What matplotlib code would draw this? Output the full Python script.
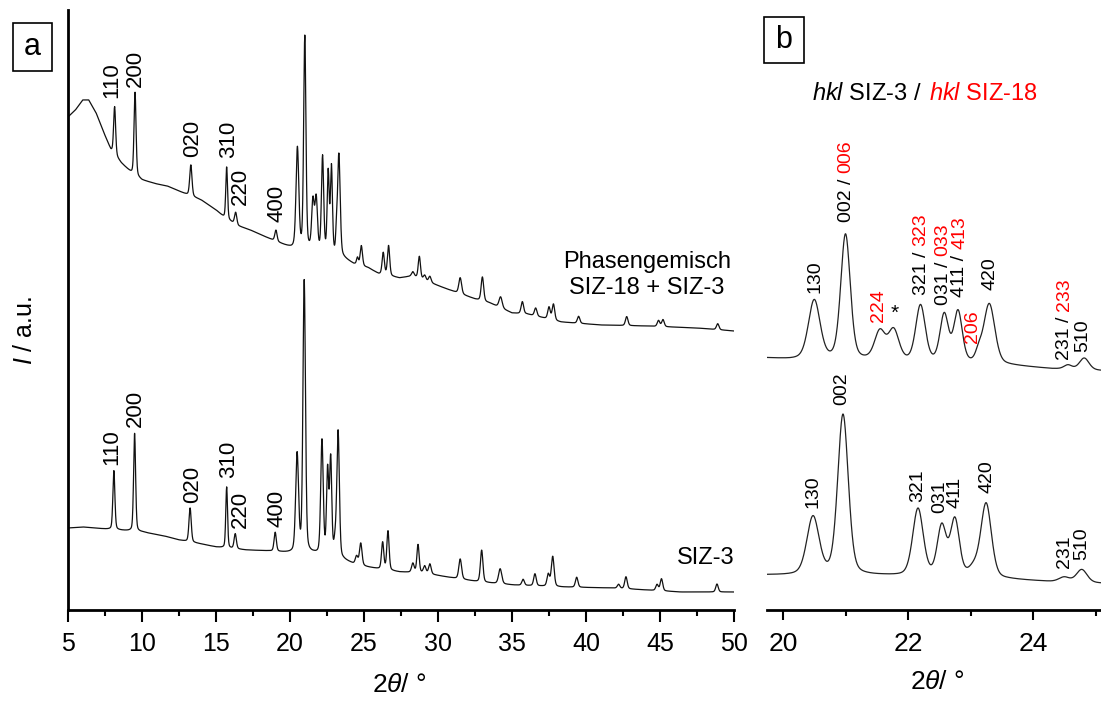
import numpy as np
import matplotlib
matplotlib.use('Agg')
import matplotlib.pyplot as plt
from matplotlib.patches import Rectangle
from matplotlib.text import Annotation
from matplotlib.ticker import MultipleLocator

plt.rcParams['font.family'] = ['Liberation Sans', 'DejaVu Sans']
plt.rcParams['mathtext.fontset'] = 'custom'
plt.rcParams['mathtext.rm'] = 'Liberation Sans'
plt.rcParams['mathtext.it'] = 'Liberation Sans:italic'

RED = '#ff0000'

# ---- data (2theta in deg, intensity in a.u.) ----
# SIZ-3: background knots
siz3_bg_x = [5.0, 6.0, 7.5, 10.0, 11.5, 12.5, 14.0, 15.0, 17.0, 18.5, 20.0, 21.6, 23.6, 24.3,
             25.2, 26.0, 27.4, 29.0, 30.6, 32.8, 35.1, 38.4, 41.8, 46.4, 50.0]
siz3_bg_y = [82, 83, 81, 78, 74, 70, 66, 63, 60, 59, 57, 56, 50, 46,
             43, 41, 38, 37, 33, 28, 25, 23, 22, 18, 18]
# SIZ-3: reflections
siz3_pos = [8.1, 9.5, 13.25, 15.72, 16.3, 19.0, 20.48, 20.96, 22.16, 22.54, 22.75, 23.05, 23.25,
            24.5, 24.78, 26.26, 26.62, 28.3, 28.65, 29.1, 29.45, 31.5, 32.95, 34.2, 35.75,
            36.55, 37.45, 37.75, 39.37, 42.2, 42.7, 44.8, 45.1, 48.85]
siz3_amp = [59, 98, 34, 61, 15, 19, 98, 272, 114, 84, 96, 14, 126,
            8, 22, 27, 39, 9, 28, 7, 10, 20, 32, 15, 6,
            12, 12, 30, 10, 4, 12, 6, 12, 8]
siz3_fwhm = [0.16, 0.16, 0.18, 0.14, 0.18, 0.18, 0.23, 0.2, 0.2, 0.17, 0.17, 0.2, 0.2,
             0.2, 0.2, 0.18, 0.18, 0.2, 0.18, 0.2, 0.2, 0.22, 0.2, 0.25, 0.2,
             0.2, 0.2, 0.22, 0.2, 0.2, 0.2, 0.2, 0.2, 0.2]

# Phasengemisch SIZ-18 + SIZ-3: background knots
mix_bg_x = [5.0, 5.5, 6.0, 6.4, 6.9, 7.4, 7.9, 8.6, 9.3, 10.0, 11.0, 11.7, 12.8, 14.0, 15.0,
            15.6, 16.5, 17.3, 18.5, 19.6, 20.1, 21.3, 23.6, 24.3, 25.3, 26.0, 27.4, 28.3,
            29.0, 30.6, 32.5, 33.5, 35.0, 36.0, 38.3, 41.0, 44.0, 47.5, 50.0]
mix_bg_y = [493, 500, 510, 510, 497, 478, 460, 447, 437, 430, 426, 424, 417, 410, 400,
            392, 384, 380, 372, 365, 362, 360, 352, 346, 342, 336, 332, 334,
            330, 321, 311, 307, 297, 296, 288, 285, 284, 282, 279]
# Phasengemisch: reflections
mix_pos = [8.15, 9.53, 13.3, 15.72, 16.33, 19.05, 20.5, 21.0, 21.55, 21.77, 22.2, 22.58, 22.8,
           23.13, 23.3, 24.56, 24.82, 26.3, 26.66, 28.3, 28.74, 29.1, 29.45, 31.5, 33.0,
           34.23, 35.7, 36.6, 37.5, 37.8, 39.5, 42.75, 44.9, 45.2, 48.9]
mix_amp = [48, 83, 31, 52, 12, 11, 100, 212, 48, 51, 95, 80, 86,
           15, 102, 7, 20, 22, 30, 4, 22, 5, 6, 16, 24,
           11, 12, 8, 12, 16, 7, 9, 6, 7, 6]
mix_fwhm = [0.16, 0.16, 0.18, 0.14, 0.18, 0.18, 0.22, 0.18, 0.2, 0.2, 0.18, 0.16, 0.16,
            0.12, 0.21, 0.15, 0.18, 0.18, 0.18, 0.2, 0.18, 0.2, 0.2, 0.22, 0.2,
            0.25, 0.2, 0.2, 0.2, 0.2, 0.2, 0.2, 0.2, 0.2, 0.2]

# panel b shows the 20-25 deg range again, rescaled and shifted
zoom_scale = 0.59
zoom_off_mix = 37
zoom_off_siz3 = 1

# reflection labels, panel a
a_hkl = ['110', '200', '020', '310', '220', '400']
a_lab_x = [7.97, 9.53, 13.4, 15.85, 16.62, 19.12]
a_lab_y_mix = [512, 523, 453, 452, 405, 388]
a_lab_y_siz3 = [145, 183, 107, 132, 82, 83]

# reflection labels, panel b (black part, red part)
b_mix_black = ['130', '002 /', '', '321 /', '031 /', '411 /', '', '420', '231 /', '510']
b_mix_red = ['', '006', '224', '323', '033', '413', '206', '', '233', '']
b_mix_x = [20.51, 21.01, 21.52, 22.21, 22.56, 22.83, 23.04, 23.31, 24.51, 24.8]
b_mix_y = [317, 388, 288, 315, 305, 313, 267, 320, 250, 258]
b_siz3_hkl = ['130', '002', '321', '031', '411', '420', '231', '510']
b_siz3_x = [20.48, 20.94, 22.16, 22.51, 22.75, 23.26, 24.5, 24.78]
b_siz3_y = [102, 205, 108, 97, 102, 117, 42, 50]


def profile(x, bg_x, bg_y, pos, amp, fwhm, eta=0.3):
    y = np.interp(x, bg_x, bg_y)
    for p, a, w in zip(pos, amp, fwhm):
        d = (x - p) / w
        y = y + a * (eta / (1 + 4 * d**2) + (1 - eta) * np.exp(-4 * np.log(2) * d**2))
    return y


W, H = 1101, 705
fig = plt.figure(figsize=(W / 100, H / 100), dpi=100)


def px_rect(x0, y0, x1, y1):
    return [x0 / W, 1 - y1 / H, (x1 - x0) / W, (y1 - y0) / H]


axa = fig.add_axes(px_rect(68, 10, 734, 610))
axb = fig.add_axes(px_rect(767, 10, 1101, 610))

xa = np.arange(5.0, 50.0001, 0.01)
ya_mix = profile(xa, mix_bg_x, mix_bg_y, mix_pos, mix_amp, mix_fwhm)
ya_siz3 = profile(xa, siz3_bg_x, siz3_bg_y, siz3_pos, siz3_amp, siz3_fwhm)
axa.plot(xa, ya_mix, color='#111111', lw=0.9)
axa.plot(xa, ya_siz3, color='#111111', lw=0.9)

xb = np.arange(19.7, 25.2, 0.004)
yb_mix = profile(xb, mix_bg_x, mix_bg_y, mix_pos, mix_amp, mix_fwhm) * zoom_scale + zoom_off_mix
yb_siz3 = profile(xb, siz3_bg_x, siz3_bg_y, siz3_pos, siz3_amp, siz3_fwhm) * zoom_scale + zoom_off_siz3
axb.plot(xb, yb_mix, color='#222222', lw=0.9)
axb.plot(xb, yb_siz3, color='#222222', lw=0.9)

# axes styling
axa.set_xlim(5, 50)
axa.set_ylim(0, 600)
axa.xaxis.set_major_locator(MultipleLocator(5))
axa.xaxis.set_minor_locator(MultipleLocator(2.5))
axa.set_yticks([])
for s in ['top', 'right']:
    axa.spines[s].set_visible(False)
for s in ['left', 'bottom']:
    axa.spines[s].set_linewidth(2)
axa.tick_params(axis='x', which='major', direction='out', length=8.5, width=1.5, labelsize=18, pad=7)
axa.tick_params(axis='x', which='minor', direction='out', length=4.5, width=1.5)
axa.set_xlabel(r'2$\theta$/ °', fontsize=19)
axa.xaxis.set_label_coords(0.498, -0.105)

axb.set_xlim(19.744, 25.088)
axb.set_ylim(0, 600)
axb.xaxis.set_major_locator(MultipleLocator(2))
axb.xaxis.set_minor_locator(MultipleLocator(1))
axb.set_yticks([])
for s in ['top', 'right', 'left']:
    axb.spines[s].set_visible(False)
axb.spines['bottom'].set_linewidth(2)
axb.tick_params(axis='x', which='major', direction='out', length=7, width=1.5, labelsize=19, pad=9)
axb.tick_params(axis='x', which='minor', direction='out', length=4.5, width=1.5)
axb.set_xlabel(r'2$\theta$/ °', fontsize=19)
axb.xaxis.set_label_coords(0.51, -0.1)

fig.text(25 / W, 1 - 330 / H, r'$I$ / a.u.', rotation=90, ha='center', va='center', fontsize=18)

# panel a labels
for name, lx, ly in zip(a_hkl, a_lab_x, a_lab_y_mix):
    axa.text(lx, ly, name, rotation=90, ha='center', va='bottom', fontsize=16)
for name, lx, ly in zip(a_hkl, a_lab_x, a_lab_y_siz3):
    axa.text(lx, ly, name, rotation=90, ha='center', va='bottom', fontsize=16)

axa.text(44.1, 335, 'Phasengemisch\nSIZ-18 + SIZ-3', ha='center', va='center',
         multialignment='center', fontsize=17, linespacing=1.25)
axa.text(50.05, 52, 'SIZ-3', ha='right', va='center', fontsize=17)

# panel b labels
for blk, red, lx, ly in zip(b_mix_black, b_mix_red, b_mix_x, b_mix_y):
    if blk:
        t = axb.text(lx, ly, blk, rotation=90, ha='center', va='bottom', fontsize=14)
        if red:
            axb.annotate(red, xy=(lx, 1), xycoords=('data', t), xytext=(0, 4),
                         textcoords='offset points', rotation=90, ha='center', va='bottom',
                         fontsize=14, color=RED)
    else:
        axb.text(lx, ly, red, rotation=90, ha='center', va='bottom', fontsize=14, color=RED)
axb.text(21.78, 297, '*', ha='center', va='center', fontsize=15)
for name, lx, ly in zip(b_siz3_hkl, b_siz3_x, b_siz3_y):
    axb.text(lx, ly, name, rotation=90, ha='center', va='bottom', fontsize=14)

# header of panel b
t1 = fig.text(812 / W, 1 - 100 / H, r'$hkl$ SIZ-3 /', ha='left', va='baseline', fontsize=17)
fig.add_artist(Annotation(r'$hkl$ SIZ-18', xy=(1, 1 - 100 / H),
                          xycoords=(t1, 'figure fraction'), xytext=(5, 0),
                          textcoords='offset points', ha='left', va='baseline',
                          fontsize=17, color=RED))

# boxed panel letters
for letter, (x0, y0, x1, y1) in [('a', (13, 23, 52, 71)), ('b', (764, 17, 804, 63))]:
    fig.add_artist(Rectangle((x0 / W, 1 - y1 / H), (x1 - x0) / W, (y1 - y0) / H,
                             transform=fig.transFigure, fill=False, ec='black', lw=1.2))
    fig.text((x0 + x1) / 2 / W, 1 - (y0 + y1) / 2 / H, letter, ha='center', va='center', fontsize=22)

fig.savefig('out.png', dpi=100)
